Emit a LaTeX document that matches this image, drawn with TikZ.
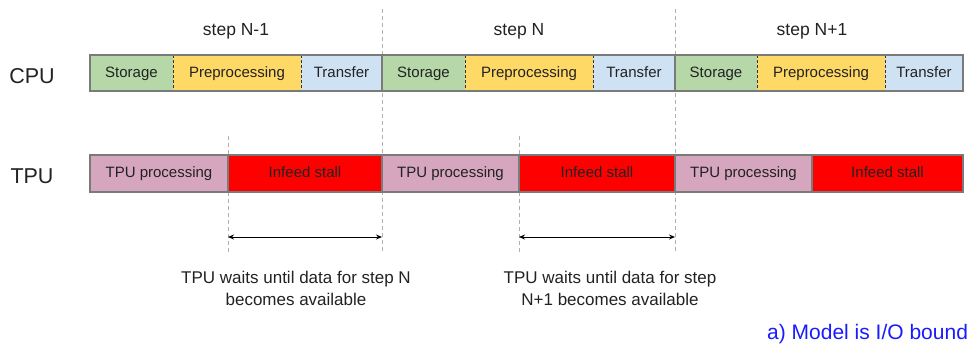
\documentclass[tikz,border=0pt]{standalone}
\usepackage{fontspec}
\setmainfont{Liberation Sans}
\usetikzlibrary{arrows.meta}
\definecolor{storagec}{HTML}{B6D7A8}
\definecolor{prepc}{HTML}{FFD966}
\definecolor{transc}{HTML}{CFE2F3}
\definecolor{tpuc}{HTML}{D5A6BD}
\definecolor{stallc}{HTML}{FF0000}
\definecolor{edgec}{HTML}{7A7A7A}
\definecolor{guidec}{HTML}{B0B0B0}
\definecolor{labc}{HTML}{222222}
\definecolor{notec}{HTML}{1A1AFF}
\tikzset{
  seg/.style={inner sep=0pt, outer sep=0pt, anchor=west, text=labc,
    font=\fontsize{15}{18}\selectfont, text height=1.6ex, text depth=0pt},
  cpuseg/.style={seg, minimum height=36pt},
  tpuseg/.style={seg, minimum height=37pt},
  rowlab/.style={font=\fontsize{21.5}{25}\selectfont, text=labc},
  steplab/.style={font=\fontsize{17.5}{21}\selectfont, text=labc},
  note/.style={font=\fontsize{17}{22}\selectfont, text=labc, align=center},
  guide/.style={guidec, line width=0.8pt, dash pattern=on 4pt off 3pt},
  outline/.style={edgec, line width=1.6pt},
  innersep/.style={black!80, line width=0.8pt, dash pattern=on 3pt off 2pt},
  waitarrow/.style={black, line width=0.9pt, {Stealth[length=6pt,width=5pt]}-{Stealth[length=6pt,width=5pt]}}
}
\begin{document}
\begin{tikzpicture}[x=1pt,y=-1pt]
\useasboundingbox (0,0) rectangle (968,349);

% step guides
\coordinate (g1t) at (382,9);   \coordinate (g1b) at (382,252);
\coordinate (g2t) at (675,9);   \coordinate (g2b) at (675,252);
\coordinate (w1t) at (228,136); \coordinate (w1b) at (228,252);
\coordinate (w2t) at (519,136); \coordinate (w2b) at (519,252);

% CPU row
\node[cpuseg, fill=storagec, minimum width=83pt] (c1s) at (90,73) {Storage};
\node[cpuseg, fill=prepc, minimum width=128pt] (c1p) at (c1s.east) {Preprocessing};
\node[cpuseg, fill=transc, minimum width=81pt] (c1t) at (c1p.east) {Transfer};
\node[cpuseg, fill=storagec, minimum width=83pt] (c2s) at (c1t.east) {Storage};
\node[cpuseg, fill=prepc, minimum width=128pt] (c2p) at (c2s.east) {Preprocessing};
\node[cpuseg, fill=transc, minimum width=82pt] (c2t) at (c2p.east) {Transfer};
\node[cpuseg, fill=storagec, minimum width=82pt] (c3s) at (c2t.east) {Storage};
\node[cpuseg, fill=prepc, minimum width=128pt] (c3p) at (c3s.east) {Preprocessing};
\node[cpuseg, fill=transc, minimum width=78pt] (c3t) at (c3p.east) {Transfer};

% TPU row
\node[tpuseg, fill=tpuc, minimum width=138pt] (t1p) at (90,173.5) {TPU processing};
\node[tpuseg, fill=stallc, minimum width=154pt] (t1s) at (t1p.east) {Infeed stall};
\node[tpuseg, fill=tpuc, minimum width=137pt] (t2p) at (t1s.east) {TPU processing};
\node[tpuseg, fill=stallc, minimum width=156pt] (t2s) at (t2p.east) {Infeed stall};
\node[tpuseg, fill=tpuc, minimum width=137pt] (t3p) at (t2s.east) {TPU processing};
\node[tpuseg, fill=stallc, minimum width=151pt] (t3s) at (t3p.east) {Infeed stall};

% guides
\draw[guide] (g1t) -- (g1b);
\draw[guide] (g2t) -- (g2b);
\draw[guide] (w1t) -- (w1b);
\draw[guide] (w2t) -- (w2b);

% CPU borders
\draw[innersep] (c1s.north east) -- (c1s.south east);
\draw[innersep] (c1p.north east) -- (c1p.south east);
\draw[innersep] (c2s.north east) -- (c2s.south east);
\draw[innersep] (c2p.north east) -- (c2p.south east);
\draw[innersep] (c3s.north east) -- (c3s.south east);
\draw[innersep] (c3p.north east) -- (c3p.south east);
\draw[outline] (c1t.north east) -- (c1t.south east);
\draw[outline] (c2t.north east) -- (c2t.south east);
\draw[outline] (c1s.north west) rectangle (c3t.south east);

% TPU borders
\foreach \n in {t1p,t1s,t2p,t2s,t3p}
  \draw[outline] (\n.north east) -- (\n.south east);
\draw[outline] (t1p.north west) rectangle (t3s.south east);

% labels
\node[rowlab] (cpu) at (32,76) {CPU};
\node[rowlab] (tpu) at (32,176) {TPU};
\node[steplab] (st1) at (236,31) {step N-1};
\node[steplab] (st2) at (519,31) {step N};
\node[steplab] (st3) at (812,31) {step N+1};

% waiting intervals
\draw[waitarrow] (w1t |- 0,237) -- (g1t |- 0,237);
\draw[waitarrow] (w2t |- 0,237) -- (g2t |- 0,237);

\node[note] (n1) at (296,288) {TPU waits until data for step N\\becomes available};
\node[note] (n2) at (610,288) {TPU waits until data for step\\N+1 becomes available};
\node[anchor=west, inner sep=0pt, text=notec, font=\fontsize{21}{24}\selectfont] (res) at (767,334) {a) Model is I/O bound};
\end{tikzpicture}
\end{document}
